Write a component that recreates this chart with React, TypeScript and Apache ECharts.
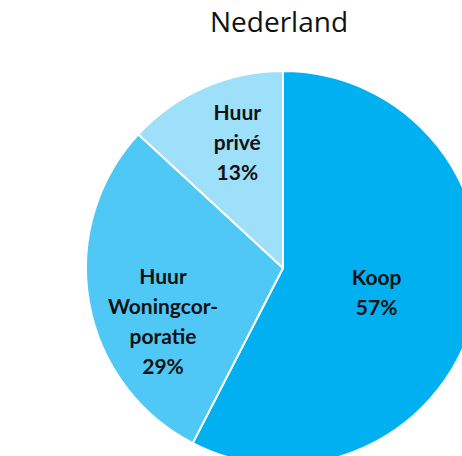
import React, { useEffect, useRef } from "react";
import * as echarts from "echarts";

const categories = ["Koop", "Huur\nWoningcor-\nporatie", "Huur\nprivé"];
const values = [57, 29, 13];
const colors = ["#00B0F0", "#4FC8F5", "#9EDFF9"];
const labelShift = [
  [-5, 0],
  [-20, 35],
  [-5, -34],
];

export default function App() {
  const ref = useRef<HTMLDivElement>(null);
  useEffect(() => {
    const chart = echarts.init(ref.current!, undefined, { renderer: "svg" });
    chart.setOption({
      animation: false,
      backgroundColor: "#ffffff",
      title: {
        text: "Nederland",
        left: 205,
        top: 2,
        textStyle: {
          fontFamily: "Open Sans",
          fontWeight: "normal",
          fontSize: 28,
          color: "#111111",
        },
      },
      series: [
        {
          type: "pie",
          center: [283, 268],
          radius: [0, 197],
          startAngle: 90,
          clockwise: true,
          data: categories.map((c, i) => ({
            name: c,
            value: values[i],
            itemStyle: { color: colors[i] },
          })),
          itemStyle: { borderColor: "#ffffff", borderWidth: 2 },
          label: {
            show: true,
            position: "inside",
            formatter: "{b}\n{c}%",
            fontFamily: "Lato",
            fontWeight: "bold",
            fontSize: 21,
            lineHeight: 30,
            color: "#111111",
            align: "center",
            textBorderWidth: 0,
          },
          labelLine: { show: false },
          labelLayout: (p: any) => ({
            dx: labelShift[p.dataIndex][0],
            dy: labelShift[p.dataIndex][1],
          }),
          emphasis: { disabled: true },
        },
      ],
    });
    return () => chart.dispose();
  }, []);
  return (
    <div
      ref={ref}
      style={{ position: "fixed", left: 0, top: 0, width: 462, height: 456 }}
    />
  );
}
